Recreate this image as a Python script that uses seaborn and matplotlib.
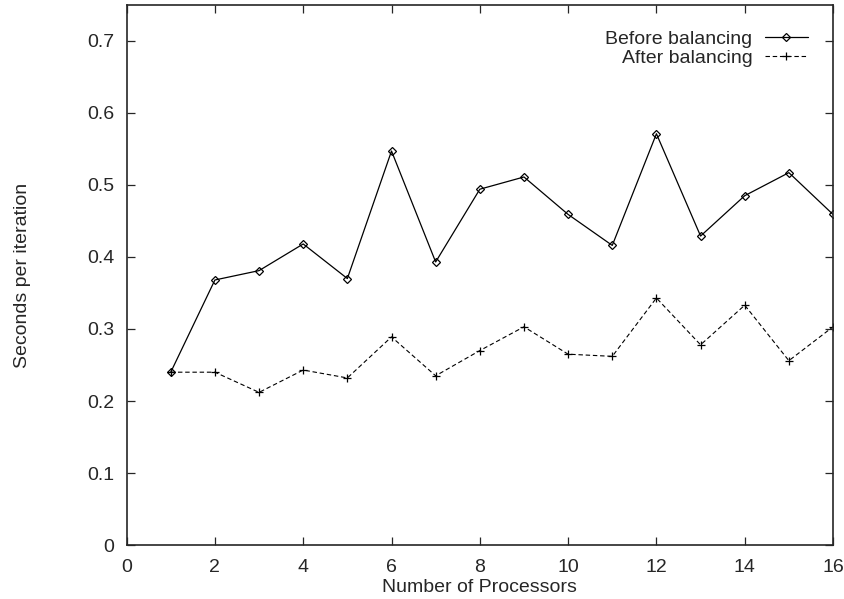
import matplotlib
matplotlib.use("Agg")
import matplotlib.pyplot as plt
import seaborn as sns
import pandas as pd

sns.set_style("ticks")
plt.rcParams['font.family'] = ['Liberation Sans', 'DejaVu Sans']

processors = list(range(1, 17))
before = [0.240, 0.368, 0.381, 0.418, 0.370, 0.547, 0.393, 0.494,
          0.511, 0.459, 0.416, 0.571, 0.429, 0.485, 0.517, 0.459]
after = [0.240, 0.240, 0.212, 0.243, 0.232, 0.289, 0.235, 0.270,
         0.303, 0.265, 0.262, 0.343, 0.278, 0.333, 0.256, 0.303]

df = pd.DataFrame({"Processors": processors, "Before": before, "After": after})

fig = plt.figure(figsize=(8.44, 5.99), dpi=100)
ax = fig.add_axes([0.150, 0.090, 0.837, 0.902])

# Before balancing: solid line, open diamonds
sns.lineplot(data=df, x="Processors", y="Before", color="black", linewidth=0.9,
             marker="D", markersize=4.5, markerfacecolor="none",
             markeredgecolor="black", markeredgewidth=0.9,
             label="Before balancing", ax=ax)
# After balancing: dashed line, plus markers
sns.lineplot(data=df, x="Processors", y="After", color="black", linewidth=0.8,
             linestyle=(0, (4, 2.5)), marker="+", markersize=6,
             markeredgecolor="black", markeredgewidth=0.9,
             label="After balancing", ax=ax)

ax.set_xlim(0, 16)
ax.set_ylim(0, 0.75)
ax.set_xticks(range(0, 17, 2))
ax.set_yticks([0, 0.1, 0.2, 0.3, 0.4, 0.5, 0.6, 0.7])
ax.set_yticklabels(["0", "0.1", "0.2", "0.3", "0.4", "0.5", "0.6", "0.7"])
ax.tick_params(direction="in", top=True, right=True, labelsize=14, length=6, width=0.9)
ax.tick_params(axis="y", pad=9)
ax.tick_params(axis="x", pad=10)
for s in ax.spines.values():
    s.set_linewidth(1.2)
ax.set_xlabel("Number of Processors", fontsize=14, labelpad=2)
ax.set_ylabel("Seconds per iteration", fontsize=14, labelpad=40)

ax.legend(loc="upper right", frameon=False, markerfirst=False, fontsize=14,
          handlelength=2.2, handletextpad=0.65, borderpad=0.4,
          borderaxespad=0.9, labelspacing=0.1)

fig.savefig("out.png", dpi=100)
